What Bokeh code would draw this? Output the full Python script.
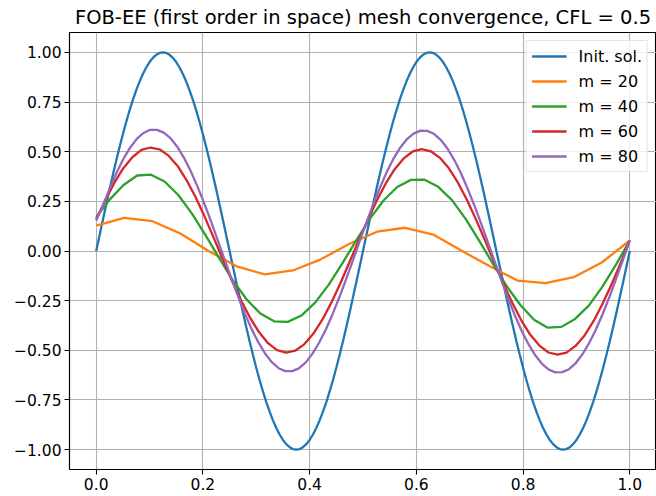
import numpy as np
from bokeh.plotting import figure
from bokeh.models import Range1d, FixedTicker, CustomJSTickFormatter, Legend, LegendItem
from bokeh.embed import file_html
from bokeh.resources import INLINE

title_text = "FOB-EE (first order in space) mesh convergence, CFL = 0.5"
x_ticks = [0.0, 0.2, 0.4, 0.6, 0.8, 1.0]
y_ticks = [-1.0, -0.75, -0.5, -0.25, 0.0, 0.25, 0.5, 0.75, 1.0]
labels = ["Init. sol.", "m = 20", "m = 40", "m = 60", "m = 80"]
colors = ["#1f77b4", "#ff7f0e", "#2ca02c", "#d62728", "#9467bd"]

init_sol = [
    0.0, 0.0785, 0.1564, 0.2334, 0.309, 0.3827, 0.454, 0.5225, 0.5878, 0.6494,
    0.7071, 0.7604, 0.809, 0.8526, 0.891, 0.9239, 0.9511, 0.9724, 0.9877, 0.9969,
    1.0, 0.9969, 0.9877, 0.9724, 0.9511, 0.9239, 0.891, 0.8526, 0.809, 0.7604,
    0.7071, 0.6494, 0.5878, 0.5225, 0.454, 0.3827, 0.309, 0.2334, 0.1564, 0.0785,
    0.0, -0.0785, -0.1564, -0.2334, -0.309, -0.3827, -0.454, -0.5225, -0.5878, -0.6494,
    -0.7071, -0.7604, -0.809, -0.8526, -0.891, -0.9239, -0.9511, -0.9724, -0.9877, -0.9969,
    -1.0, -0.9969, -0.9877, -0.9724, -0.9511, -0.9239, -0.891, -0.8526, -0.809, -0.7604,
    -0.7071, -0.6494, -0.5878, -0.5225, -0.454, -0.3827, -0.309, -0.2334, -0.1564, -0.0785,
    0.0, 0.0785, 0.1564, 0.2334, 0.309, 0.3827, 0.454, 0.5225, 0.5878, 0.6494,
    0.7071, 0.7604, 0.809, 0.8526, 0.891, 0.9239, 0.9511, 0.9724, 0.9877, 0.9969,
    1.0, 0.9969, 0.9877, 0.9724, 0.9511, 0.9239, 0.891, 0.8526, 0.809, 0.7604,
    0.7071, 0.6494, 0.5878, 0.5225, 0.454, 0.3827, 0.309, 0.2334, 0.1564, 0.0785,
    0.0, -0.0785, -0.1564, -0.2334, -0.309, -0.3827, -0.454, -0.5225, -0.5878, -0.6494,
    -0.7071, -0.7604, -0.809, -0.8526, -0.891, -0.9239, -0.9511, -0.9724, -0.9877, -0.9969,
    -1.0, -0.9969, -0.9877, -0.9724, -0.9511, -0.9239, -0.891, -0.8526, -0.809, -0.7604,
    -0.7071, -0.6494, -0.5878, -0.5225, -0.454, -0.3827, -0.309, -0.2334, -0.1564, -0.0785,
    0.0]

m20 = [0.128, 0.167, 0.150, 0.088, 0.0, -0.077, -0.118, -0.098, -0.042, 0.035,
       0.097, 0.117, 0.083, 0.002, -0.075, -0.149, -0.162, -0.132, -0.058, 0.053]

m40 = [0.170, 0.260, 0.332, 0.380, 0.384, 0.350, 0.282, 0.188, 0.079, -0.037,
       -0.149, -0.244, -0.315, -0.354, -0.357, -0.325, -0.260, -0.169, -0.061, 0.052,
       0.162, 0.254, 0.322, 0.358, 0.359, 0.323, 0.256, 0.162, 0.051, -0.065,
       -0.177, -0.272, -0.346, -0.386, -0.382, -0.342, -0.275, -0.179, -0.067, 0.053]

m60 = [0.160, 0.254, 0.343, 0.417, 0.472, 0.509, 0.521, 0.512, 0.480, 0.428,
       0.356, 0.271, 0.172, 0.066, -0.042, -0.148, -0.247, -0.335, -0.408, -0.464,
       -0.499, -0.512, -0.502, -0.470, -0.417, -0.346, -0.260, -0.162, -0.057, 0.050,
       0.154, 0.252, 0.339, 0.412, 0.466, 0.501, 0.513, 0.502, 0.469, 0.416,
       0.344, 0.257, 0.158, 0.052, -0.056, -0.162, -0.261, -0.349, -0.422, -0.476,
       -0.511, -0.522, -0.512, -0.478, -0.425, -0.352, -0.264, -0.166, -0.059, 0.053]

m80 = [0.154, 0.228, 0.315, 0.393, 0.462, 0.519, 0.564, 0.594, 0.610, 0.610,
       0.596, 0.568, 0.525, 0.469, 0.402, 0.324, 0.240, 0.149, 0.054, -0.042,
       -0.137, -0.228, -0.314, -0.392, -0.459, -0.516, -0.560, -0.590, -0.605, -0.605,
       -0.591, -0.562, -0.518, -0.462, -0.395, -0.318, -0.233, -0.142, -0.048, 0.048,
       0.143, 0.233, 0.318, 0.396, 0.464, 0.520, 0.563, 0.591, 0.606, 0.605,
       0.590, 0.560, 0.516, 0.459, 0.391, 0.313, 0.228, 0.137, 0.042, -0.054,
       -0.149, -0.240, -0.325, -0.403, -0.469, -0.525, -0.568, -0.597, -0.611, -0.610,
       -0.595, -0.564, -0.519, -0.462, -0.394, -0.316, -0.230, -0.138, -0.043, 0.053]

series = [init_sol, m20, m40, m60, m80]

p = figure(width=656, height=496, output_backend="svg", toolbar_location=None,
           x_range=Range1d(-0.05, 1.05), y_range=Range1d(-1.1, 1.1),
           min_border_left=69, min_border_right=0, min_border_top=32, min_border_bottom=27)

p.title.text = title_text
p.title.align = "center"
p.title.text_font = "DejaVu Sans"
p.title.text_font_size = "19.5px"
p.title.text_font_style = "normal"
p.title.text_color = "#000000"
p.title.standoff = 7

p.background_fill_color = "white"
p.border_fill_color = "white"
p.outline_line_color = "#000000"
p.outline_line_width = 1.1

for ax in (p.xaxis[0], p.yaxis[0]):
    ax.axis_line_color = "#000000"
    ax.axis_line_width = 1.1
    ax.major_tick_line_color = "#000000"
    ax.major_tick_line_width = 1.1
    ax.major_tick_out = 5
    ax.major_tick_in = 0
    ax.minor_tick_line_color = None
    ax.major_label_text_font = "DejaVu Sans"
    ax.major_label_text_font_size = "15.5px"
    ax.major_label_text_color = "#000000"
    ax.major_label_standoff = 3

p.xaxis[0].ticker = FixedTicker(ticks=x_ticks)
p.yaxis[0].ticker = FixedTicker(ticks=y_ticks)
p.xaxis[0].formatter = CustomJSTickFormatter(code="return (tick < 0 ? '\\u2212' : '') + Math.abs(tick).toFixed(1);")
p.yaxis[0].formatter = CustomJSTickFormatter(code="return (tick < 0 ? '\\u2212' : '') + Math.abs(tick).toFixed(2);")

for g in (p.xgrid[0], p.ygrid[0]):
    g.grid_line_color = "#b0b0b0"
    g.grid_line_width = 1.1

items = []
for lab, col, ys in zip(labels, colors, series):
    xs = np.linspace(0.0, 1.0, len(ys))
    r = p.line(xs, ys, line_color=col, line_width=2.3)
    items.append(LegendItem(label=lab, renderers=[r]))

legend = Legend(items=items, location="top_right")
legend.label_text_font = "DejaVu Sans"
legend.label_text_font_size = "16px"
legend.label_text_color = "#000000"
legend.glyph_width = 35
legend.glyph_height = 20
legend.label_height = 20
legend.label_standoff = 12
legend.spacing = 5
legend.padding = 5
legend.margin = 8
legend.border_line_color = "#cccccc"
legend.border_line_width = 1
legend.background_fill_color = "white"
legend.background_fill_alpha = 0.8
p.add_layout(legend)

open("out.html", "w").write(file_html(p, INLINE))
